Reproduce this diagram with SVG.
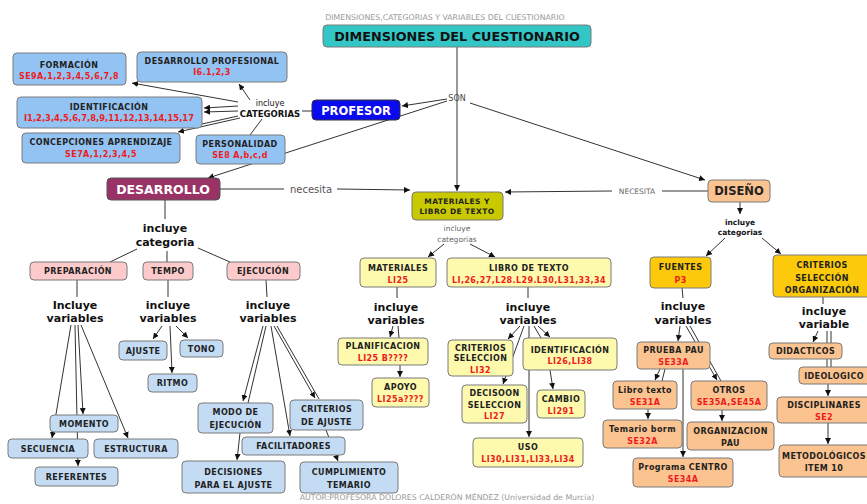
<svg xmlns="http://www.w3.org/2000/svg" width="867" height="504" viewBox="0 0 867 504">
<style>
text{font-family:"DejaVu Sans","Liberation Sans",sans-serif;text-anchor:middle}
.t{font-weight:bold;font-size:8px;fill:#222;letter-spacing:0.4px}
.r{fill:#ee1c1c}
.lbl{font-weight:bold;font-size:11px;fill:#111}
.sm{font-weight:bold;font-size:8px;fill:#111}
.g{font-size:7.8px;fill:#9a9a9a}
.c{stroke:#333;stroke-width:1;fill:none}
.a{stroke:#333;stroke-width:1;fill:none;marker-end:url(#ar)}
.bx{stroke:#7a7a7a;stroke-width:1}
.blue{fill:#92c3f3}
.lb{fill:#c3dcf4}
.pk{fill:#fccaca}
.ly{fill:#fdf9ad}
.pe{fill:#fbc38f}
.go{fill:#fcca0a}
</style>
<defs>
<marker id="ar" markerWidth="6" markerHeight="6" refX="6" refY="3" orient="auto" markerUnits="userSpaceOnUse">
<path d="M0,0 L6,3 L0,6 z" fill="#111"/>
</marker>
</defs>
<rect width="867" height="504" fill="#fff"/>
<text class="g" x="445" y="20">DIMENSIONES,CATEGORIAS Y VARIABLES DEL CUESTIONARIO</text>
<text class="g" x="447" y="500">AUTOR:PROFESORA DOLORES CALDERÓN MÉNDEZ (Universidad de Murcia)</text>

<g id="connectors">
<line class="a" x1="457" y1="47" x2="457" y2="191"/>
<line class="a" x1="447" y1="99" x2="402" y2="106"/>
<line class="a" x1="447" y1="101" x2="208" y2="178"/>
<line class="a" x1="470" y1="103" x2="705" y2="180"/>
<line class="c" x1="302" y1="111" x2="312" y2="111"/>
<line class="a" x1="238" y1="102" x2="132" y2="83"/>
<line class="a" x1="250" y1="100" x2="239" y2="84"/>
<line class="a" x1="238" y1="106" x2="204" y2="108"/>
<line class="a" x1="238" y1="111" x2="204" y2="112"/>
<line class="c" x1="238" y1="116" x2="202" y2="124"/>
<line class="a" x1="240" y1="118" x2="178" y2="132"/>
<line class="c" x1="262" y1="119" x2="250" y2="135"/>
<line class="c" x1="220" y1="189" x2="284" y2="189"/>
<line class="a" x1="337" y1="189" x2="410" y2="190"/>
<line class="c" x1="708" y1="191" x2="662" y2="191"/>
<line class="a" x1="612" y1="191" x2="505" y2="192"/>
<line class="c" x1="165" y1="200" x2="165" y2="219"/>
<line class="c" x1="137" y1="249" x2="110" y2="262"/>
<line class="c" x1="167" y1="251" x2="167" y2="262"/>
<line class="c" x1="198" y1="248" x2="230" y2="262"/>
<line class="c" x1="77" y1="280" x2="77" y2="297"/>
<line class="c" x1="168" y1="280" x2="168" y2="297"/>
<line class="c" x1="266" y1="280" x2="267" y2="297"/>
<line class="a" x1="71" y1="325" x2="52" y2="438"/>
<line class="a" x1="75" y1="325" x2="78" y2="466"/>
<line class="a" x1="78" y1="325" x2="83" y2="414"/>
<line class="a" x1="81" y1="325" x2="128" y2="438"/>
<line class="a" x1="162" y1="326" x2="153" y2="339"/>
<line class="a" x1="176" y1="326" x2="188" y2="338"/>
<line class="a" x1="170" y1="326" x2="172" y2="373"/>
<line class="a" x1="263" y1="326" x2="243" y2="401"/>
<line class="c" x1="266" y1="326" x2="248" y2="403"/>
<line class="a" x1="271" y1="326" x2="290" y2="436"/>
<line class="a" x1="274" y1="326" x2="315" y2="398"/>
<line class="c" x1="277" y1="326" x2="319" y2="399"/>
<line class="a" x1="240" y1="433" x2="237" y2="460"/>
<line class="a" x1="326" y1="430" x2="338" y2="461"/>
<line class="a" x1="444" y1="244" x2="428" y2="257"/>
<line class="a" x1="470" y1="244" x2="495" y2="257"/>
<line class="c" x1="397" y1="287" x2="397" y2="298"/>
<line class="a" x1="393" y1="326" x2="390" y2="337"/>
<line class="c" x1="398" y1="326" x2="399" y2="338"/>
<line class="a" x1="400" y1="365" x2="400" y2="377"/>
<line class="c" x1="528" y1="287" x2="528" y2="298"/>
<line class="a" x1="520" y1="326" x2="508" y2="339"/>
<line class="a" x1="524" y1="326" x2="503" y2="384"/>
<line class="a" x1="529" y1="326" x2="529" y2="437"/>
<line class="c" x1="534" y1="326" x2="541" y2="338"/>
<line class="a" x1="538" y1="326" x2="550" y2="337"/>
<line class="a" x1="550" y1="370" x2="553" y2="389"/>
<line class="a" x1="740" y1="202" x2="740" y2="214"/>
<line class="a" x1="725" y1="238" x2="706" y2="256"/>
<line class="a" x1="762" y1="238" x2="781" y2="254"/>
<line class="c" x1="682" y1="288" x2="683" y2="298"/>
<line class="a" x1="680" y1="326" x2="678" y2="341"/>
<line class="a" x1="686" y1="326" x2="717" y2="380"/>
<line class="c" x1="690" y1="326" x2="721" y2="381"/>
<line class="a" x1="660" y1="369" x2="655" y2="380"/>
<line class="c" x1="665" y1="369" x2="662" y2="381"/>
<line class="a" x1="648" y1="409" x2="648" y2="419"/>
<line class="a" x1="683" y1="369" x2="683" y2="457"/>
<line class="a" x1="722" y1="410" x2="722" y2="421"/>
<line class="c" x1="823" y1="297" x2="823" y2="304"/>
<line class="a" x1="818" y1="331" x2="813" y2="342"/>
<line class="c" x1="827" y1="331" x2="827" y2="367"/>
<line class="c" x1="831" y1="331" x2="831" y2="367"/>
<line class="a" x1="828" y1="384" x2="828" y2="396"/>
<line class="a" x1="828" y1="423" x2="828" y2="444"/>
</g>

<g id="labels">
<text x="457" y="101" style="font-size:8px;fill:#444">SON</text>
<text x="270" y="106" style="font-size:8px;fill:#111">incluye</text>
<text x="270" y="117" class="sm" style="font-size:8.5px">CATEGORIAS</text>
<text x="311" y="193" style="font-size:10px;fill:#555">necesita</text>
<text x="637" y="194" style="font-size:7.5px;fill:#666">NECESITA</text>
<text class="lbl" x="165" y="232">incluye</text>
<text class="lbl" x="165" y="246">categoria</text>
<text class="lbl" x="75" y="309">Incluye</text>
<text class="lbl" x="75" y="322">variables</text>
<text class="lbl" x="168" y="309">incluye</text>
<text class="lbl" x="168" y="322">variables</text>
<text class="lbl" x="268" y="309">incluye</text>
<text class="lbl" x="268" y="322">variables</text>
<text x="457" y="231" style="font-size:7.5px;fill:#666">incluye</text>
<text x="457" y="242" style="font-size:7.5px;fill:#666">categorias</text>
<text class="lbl" x="396" y="311">incluye</text>
<text class="lbl" x="396" y="324">variables</text>
<text class="lbl" x="528" y="311">incluye</text>
<text class="lbl" x="528" y="324">variables</text>
<text class="sm" x="740" y="225" style="font-size:7.5px">incluye</text>
<text class="sm" x="740" y="235" style="font-size:7.5px">categorias</text>
<text class="lbl" x="683" y="310">incluye</text>
<text class="lbl" x="683" y="324">variables</text>
<text class="lbl" x="824" y="315">incluye</text>
<text class="lbl" x="824" y="328">variable</text>
</g>

<g id="dimensiones"><rect class="bx" x="323" y="25" width="268" height="22" rx="4" fill="#33c6c6"/><text x="457" y="41" style="font-weight:bold;font-size:12.8px;fill:#111">DIMENSIONES DEL CUESTIONARIO</text></g>
<g id="profesor"><rect x="312" y="100" width="88" height="20" rx="4" fill="#0a0af0" stroke="#333"/><text x="356" y="114.5" style="font-weight:bold;font-size:11.5px;fill:#fff">PROFESOR</text></g>
<g id="formacion"><rect class="bx blue" x="13" y="53" width="113" height="32" rx="4"/><text class="t" x="69" y="68">FORMACIÓN</text><text class="t r" x="69" y="79">SE9A,1,2,3,4,5,6,7,8</text></g>
<g id="desprof"><rect class="bx blue" x="137" y="52" width="150" height="30" rx="4"/><text class="t" x="212" y="64">DESARROLLO PROFESIONAL</text><text class="t r" x="212" y="75">I6.1,2,3</text></g>
<g id="identificacion"><rect class="bx blue" x="17" y="97" width="185" height="31" rx="4"/><text class="t" x="109" y="110">IDENTIFICACIÓN</text><text class="t r" x="109" y="121" style="font-size:8.4px;letter-spacing:0">I1,2,3,4,5,6,7,8,9,11,12,13,14,15,17</text></g>
<g id="concepciones"><rect class="bx blue" x="22" y="133" width="158" height="30" rx="4"/><text class="t" x="101" y="145">CONCEPCIONES APRENDIZAJE</text><text class="t r" x="101" y="157">SE7A,1,2,3,4,5</text></g>
<g id="personalidad"><rect class="bx blue" x="196" y="135" width="89" height="29" rx="4"/><text class="t" x="240" y="147">PERSONALIDAD</text><text class="t r" x="240" y="158">SE8 A,b,c,d</text></g>

<g id="desarrollo"><rect x="107" y="178" width="113" height="22" rx="4" fill="#993366" stroke="#555"/><text x="163" y="194" style="font-weight:bold;font-size:12.5px;fill:#fff">DESARROLLO</text></g>
<g id="materiales-libro"><rect x="412" y="192" width="91" height="28" rx="4" fill="#c9c900" stroke="#777"/><text class="t" x="457" y="204" style="font-size:7.5px">MATERIALES Y</text><text class="t" x="457" y="214" style="font-size:7.5px">LIBRO DE TEXTO</text></g>
<g id="diseno"><rect class="bx pe" x="708" y="180" width="62" height="22" rx="4"/><text x="739" y="195" style="font-weight:bold;font-size:11.5px;fill:#222">DISEÑO</text></g>

<g id="preparacion"><rect class="bx pk" x="30" y="262" width="97" height="18" rx="4"/><text class="t" x="78" y="274">PREPARACIÓN</text></g>
<g id="tempo"><rect class="bx pk" x="143" y="262" width="50" height="18" rx="4"/><text class="t" x="168" y="274">TEMPO</text></g>
<g id="ejecucion"><rect class="bx pk" x="227" y="262" width="73" height="18" rx="4"/><text class="t" x="263" y="274">EJECUCIÓN</text></g>

<g id="momento"><rect class="bx lb" x="50" y="415" width="68" height="17" rx="4"/><text class="t" x="84" y="426.5">MOMENTO</text></g>
<g id="secuencia"><rect class="bx lb" x="8" y="439" width="80" height="19" rx="4"/><text class="t" x="48" y="451.5">SECUENCIA</text></g>
<g id="estructura"><rect class="bx lb" x="94" y="439" width="84" height="19" rx="4"/><text class="t" x="136" y="451.5">ESTRUCTURA</text></g>
<g id="referentes"><rect class="bx lb" x="35" y="467" width="83" height="19" rx="4"/><text class="t" x="76.5" y="479.5">REFERENTES</text></g>
<g id="ajuste"><rect class="bx lb" x="119" y="341" width="48" height="19" rx="4"/><text class="t" x="143" y="353.5">AJUSTE</text></g>
<g id="tono"><rect class="bx lb" x="180" y="340" width="43" height="17" rx="4"/><text class="t" x="201.5" y="351.5">TONO</text></g>
<g id="ritmo"><rect class="bx lb" x="148" y="374" width="49" height="18" rx="4"/><text class="t" x="172.5" y="386">RITMO</text></g>
<g id="modo"><rect class="bx lb" x="198" y="403" width="75" height="30" rx="4"/><text class="t" x="235.5" y="415">MODO DE</text><text class="t" x="235.5" y="428">EJECUCIÓN</text></g>
<g id="criterios-ajuste"><rect class="bx lb" x="290" y="400" width="73" height="30" rx="4"/><text class="t" x="326.5" y="412">CRITERIOS</text><text class="t" x="326.5" y="425">DE AJUSTE</text></g>
<g id="facilitadores"><rect class="bx lb" x="242" y="437" width="103" height="18" rx="4"/><text class="t" x="293.5" y="449">FACILITADORES</text></g>
<g id="decisiones"><rect class="bx lb" x="182" y="461" width="103" height="32" rx="4"/><text class="t" x="233.5" y="475">DECISIONES</text><text class="t" x="233.5" y="488">PARA EL AJUSTE</text></g>
<g id="cumplimiento"><rect class="bx lb" x="300" y="462" width="98" height="31" rx="4"/><text class="t" x="349" y="475">CUMPLIMIENTO</text><text class="t" x="349" y="488">TEMARIO</text></g>

<g id="materiales"><rect class="bx ly" x="360" y="258" width="76" height="29" rx="4"/><text class="t" x="398" y="271">MATERIALES</text><text class="t r" x="398" y="283">LI25</text></g>
<g id="libro"><rect class="bx ly" x="447" y="258" width="164" height="29" rx="4"/><text class="t" x="529" y="271">LIBRO DE TEXTO</text><text class="t r" x="529" y="283">LI,26,27,L28.L29.L30,L31,33,34</text></g>
<g id="planificacion"><rect class="bx ly" x="338" y="338" width="90" height="27" rx="4"/><text class="t" x="383" y="349">PLANIFICACION</text><text class="t r" x="383" y="361">LI25 B????</text></g>
<g id="apoyo"><rect class="bx ly" x="372" y="378" width="57" height="29" rx="4"/><text class="t" x="400.5" y="390">APOYO</text><text class="t r" x="400.5" y="402">LI25a????</text></g>
<g id="criterios-seleccion"><rect class="bx ly" x="448" y="340" width="65" height="36" rx="4"/><text class="t" x="480.5" y="351">CRITERIOS</text><text class="t" x="480.5" y="361">SELECCION</text><text class="t r" x="480.5" y="373">LI32</text></g>
<g id="identificacion-libro"><rect class="bx ly" x="523" y="338" width="94" height="32" rx="4"/><text class="t" x="570" y="353">IDENTIFICACIÓN</text><text class="t r" x="570" y="364">LI26,LI38</text></g>
<g id="decisoon"><rect class="bx ly" x="462" y="385" width="65" height="38" rx="4"/><text class="t" x="494.5" y="396">DECISOON</text><text class="t" x="494.5" y="408">SELECCION</text><text class="t r" x="494.5" y="419">LI27</text></g>
<g id="cambio"><rect class="bx ly" x="537" y="390" width="48" height="28" rx="4"/><text class="t" x="561" y="402">CAMBIO</text><text class="t r" x="561" y="414">LI291</text></g>
<g id="uso"><rect class="bx ly" x="473" y="438" width="110" height="29" rx="4"/><text class="t" x="528" y="450">USO</text><text class="t r" x="528" y="462">LI30,LI31,LI33,LI34</text></g>

<g id="fuentes"><rect class="bx go" x="650" y="257" width="61" height="31" rx="4"/><text class="t" x="680.5" y="270">FUENTES</text><text class="t r" x="680.5" y="283">P3</text></g>
<g id="criterios-org"><rect class="bx go" x="773" y="255" width="100" height="42" rx="4"/><text class="t" x="822" y="268">CRITERIOS</text><text class="t" x="822" y="281">SELECCIÓN</text><text class="t" x="822" y="293">ORGANIZACIÓN</text></g>
<g id="prueba-pau"><rect class="bx pe" x="637" y="342" width="73" height="27" rx="4"/><text class="t" x="673.5" y="353">PRUEBA PAU</text><text class="t r" x="673.5" y="365">SE33A</text></g>
<g id="libro-texto"><rect class="bx pe" x="613" y="381" width="64" height="28" rx="4"/><text class="t" x="645" y="393">Libro texto</text><text class="t r" x="645" y="405">SE31A</text></g>
<g id="temario"><rect class="bx pe" x="603" y="420" width="79" height="28" rx="4"/><text class="t" x="642.5" y="432">Temario borm</text><text class="t r" x="642.5" y="444">SE32A</text></g>
<g id="otros"><rect class="bx pe" x="691" y="381" width="76" height="29" rx="4"/><text class="t" x="729" y="393">OTROS</text><text class="t r" x="729" y="405">SE35A,SE45A</text></g>
<g id="organizacion-pau"><rect class="bx pe" x="687" y="422" width="87" height="28" rx="4"/><text class="t" x="730.5" y="434">ORGANIZACION</text><text class="t" x="730.5" y="446">PAU</text></g>
<g id="programa-centro"><rect class="bx pe" x="633" y="458" width="100" height="29" rx="4"/><text class="t" x="683" y="470">Programa CENTRO</text><text class="t r" x="683" y="482">SE34A</text></g>
<g id="didacticos"><rect class="bx pe" x="769" y="343" width="73" height="16" rx="4"/><text class="t" x="805.5" y="354">DIDACTICOS</text></g>
<g id="ideologico"><rect class="bx pe" x="799" y="367" width="75" height="17" rx="4"/><text class="t" x="834" y="378.5">IDEOLOGICO</text></g>
<g id="disciplinares"><rect class="bx pe" x="777" y="397" width="97" height="26" rx="4"/><text class="t" x="824" y="408">DISCIPLINARES</text><text class="t r" x="824" y="420">SE2</text></g>
<g id="metodologicos"><rect class="bx pe" x="779" y="445" width="95" height="32" rx="4"/><text class="t" x="824" y="459">METODOLÓGICOS</text><text class="t" x="824" y="471">ITEM 10</text></g>
</svg>
